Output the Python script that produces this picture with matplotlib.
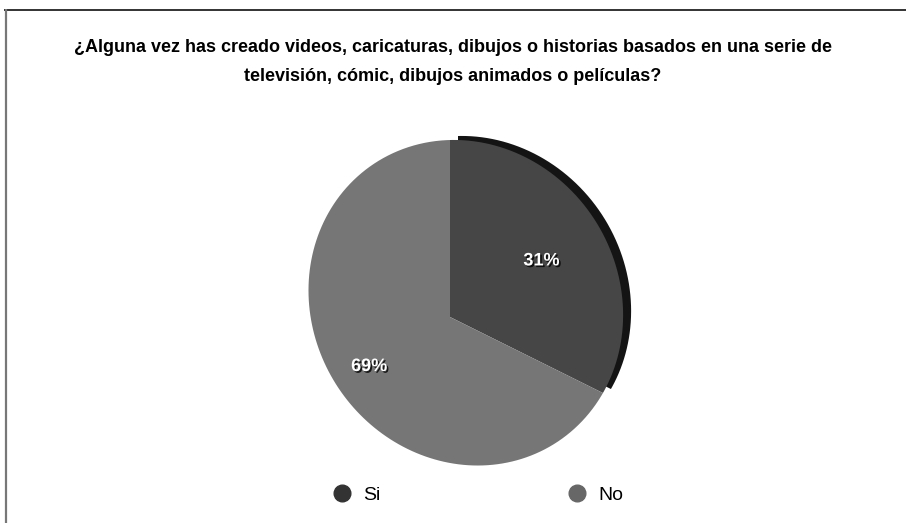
import numpy as np
import matplotlib
matplotlib.use("Agg")
import matplotlib.pyplot as plt
import matplotlib.patheffects as pe
from matplotlib.transforms import Transform, Affine2D
from matplotlib.path import Path
from matplotlib.lines import Line2D

plt.rcParams['font.family'] = ['Liberation Sans', 'DejaVu Sans']

title = ("¿Alguna vez has creado videos, caricaturas, dibujos o historias basados en una serie de\n"
         "televisión, cómic, dibujos animados o películas?")
labels = ['Si', 'No']
values = [31, 69]
colors = ['#464646', '#767676']
legend_colors = ['#333333', '#676767']

# center of the pie in pixel coords and the tilt of the disc
CX, CY = 450, 317
A = np.array([[155.0, 0.0], [13.7, -160.0]])
P, Q = -0.10, -0.096


class Tilt(Transform):
    """Unit-circle coords -> pixel coords of a disc seen in perspective."""
    input_dims = output_dims = 2
    is_separable = False
    has_inverse = False

    def transform_non_affine(self, xy):
        xy = np.atleast_2d(np.asarray(xy, float))
        x, y = xy[:, 0], xy[:, 1]
        d = 1 + P * x + Q * y
        u = (A[0, 0] * x + A[0, 1] * y) / d
        v = (A[1, 0] * x + A[1, 1] * y) / d
        return np.column_stack([CX + u, CY + v])

    def transform_path_non_affine(self, path):
        # flatten the arcs first, straight lines stay straight under the projection
        polys = path.to_polygons(transform=Affine2D().scale(1000), closed_only=False)
        poly = np.concatenate(polys) / 1000
        t = self.transform_non_affine(poly)
        return Path(np.vstack([t, t[:1]]), closed=True)


def reset_axes(ax):
    ax.set_aspect('auto')
    ax.set_xlim(0, 906)
    ax.set_ylim(523, 0)
    ax.axis('off')


fig = plt.figure(figsize=(9.06, 5.23), dpi=100)
ax = fig.add_axes([0, 0, 1, 1])
tilt = Tilt()

# dark side wall of the first slice, drawn behind and shifted
side, _ = ax.pie(values, colors=['#141414', 'none'], startangle=90, counterclock=False,
                 radius=1, center=(0, 0), wedgeprops=dict(linewidth=0))
for w in side:
    w.set_transform(tilt + Affine2D().translate(8, -4) + ax.transData)
    w.set_zorder(2)
side[1].set_visible(False)

wedges, _ = ax.pie(values, colors=colors, startangle=90, counterclock=False,
                   radius=1, center=(0, 0), wedgeprops=dict(linewidth=0))
for w in wedges:
    w.set_transform(tilt + ax.transData)
    w.set_zorder(3)
reset_axes(ax)

# percentage labels
frac = np.array(values) / sum(values)
start = 90 - 360 * np.concatenate([[0], np.cumsum(frac)[:-1]])
mid = np.deg2rad(start - 180 * frac)
radii = [0.65, 0.69]
for m, r, v in zip(mid, radii, values):
    ax.text(r * np.cos(m), r * np.sin(m), f'{v}%', transform=tilt + ax.transData,
            ha='center', va='center', color='white', fontsize=13, fontweight='bold',
            zorder=5,
            path_effects=[pe.withSimplePatchShadow(offset=(1.2, -1.2), shadow_rgbFace='black', alpha=0.8)])

fig.text(0.5, 1 - 62 / 523, title, ha='center', va='center', fontsize=13,
         fontweight='bold', linespacing=1.95)

# frame lines
ax.plot([4, 906], [9.5, 9.5], color='#333333', lw=1.4, solid_capstyle='butt', zorder=1)
ax.plot([5.5, 5.5], [9, 523], color='#777777', lw=1.6, solid_capstyle='butt', zorder=1)

handles = [Line2D([], [], ls='none', marker='o', markersize=12, color=c) for c in legend_colors]
ax.legend(handles, labels, ncol=2, frameon=False, loc='center',
          bbox_to_anchor=(478 / 906, 1 - 495 / 523), fontsize=14,
          handlelength=1.0, handletextpad=0.6, columnspacing=9.6)

fig.savefig('out.png', dpi=100)
